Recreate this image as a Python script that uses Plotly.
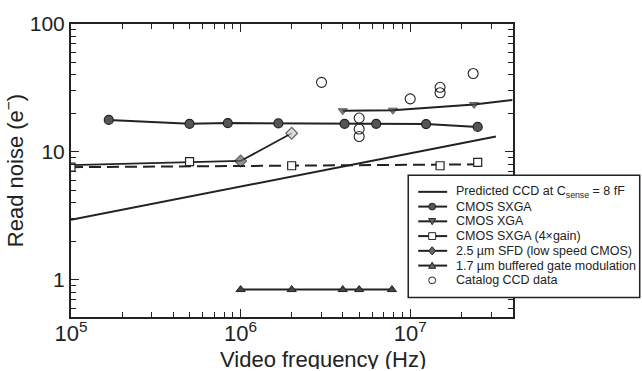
import plotly.graph_objects as go

# ---- data ----
pred_x = [1e5, 3.2e7]
pred_y = [2.95, 13.2]

sxga_x = [1.67e5, 5.0e5, 8.4e5, 1.67e6, 4.1e6, 6.3e6, 1.24e7, 2.5e7]
sxga_y = [17.8, 16.6, 16.8, 16.7, 16.6, 16.6, 16.5, 15.7]

xga_x = [4.0e6, 7.9e6, 2.38e7, 4.0e7]
xga_y = [21.0, 21.2, 23.5, 25.5]
xga_marker = [8, 8, 8, 0]

gain4_x = [1e5, 5.0e5, 2.0e6, 1.5e7, 2.5e7]
gain4_y = [7.6, 8.4, 7.8, 7.8, 8.3]
gain4_fit_x = [1e5, 2.6e7]
gain4_fit_y = [7.6, 8.0]

sfd_x = [1e5, 1.0e6, 2.0e6]
sfd_y = [7.9, 8.5, 14.0]
sfd_marker = [0, 9, 9]

bgm_x = [1.0e6, 2.0e6, 4.0e6, 5.0e6, 7.8e6]
bgm_y = [0.84, 0.84, 0.84, 0.84, 0.84]

cat_x = [3.0e6, 5.0e6, 5.0e6, 5.0e6, 1.0e7, 1.5e7, 1.5e7, 2.35e7]
cat_y = [35, 18.4, 15.1, 13.2, 26, 29, 32, 41]

x_ticks = [1e5, 1e6, 1e7]
x_ticktext = ["10<sup>5</sup>", "10<sup>6</sup>", "10<sup>7</sup>"]
y_ticks = [1, 10, 100]
y_ticktext = ["1", "10", "100"]

x_title = "Video frequency (Hz)"
y_title = "Read noise (e<sup>−</sup>)"

legend_names = [
    "Predicted CCD at C<sub>sense</sub> = 8 fF",
    "CMOS SXGA",
    "CMOS XGA",
    "CMOS SXGA (4×gain)",
    "2.5 µm SFD (low speed CMOS)",
    "1.7 µm buffered gate modulation",
    "Catalog CCD data",
]
legend_symbols = [None, "circle", "triangle-down", "square", "diamond", "triangle-up", "circle-open"]

FONT = "Liberation Sans, Arial, Helvetica, sans-serif"
K = "#222222"

# plot-area geometry (pixels)
W, H = 642, 371
ML, MR, MT, MB = 70, 129, 15, 54
PW, PH = W - ML - MR, H - MT - MB


def px(x):
    return (x - ML) / PW


def py(y):
    return (H - MB - y) / PH


fig = go.Figure()

fig.add_trace(go.Scatter(x=pred_x, y=pred_y, mode="lines",
                         line=dict(color=K, width=2), name=legend_names[0]))
fig.add_trace(go.Scatter(x=sxga_x, y=sxga_y, mode="lines+markers",
                         line=dict(color=K, width=2),
                         marker=dict(symbol="circle", size=9, color="#555555",
                                     line=dict(color=K, width=1.2)),
                         name=legend_names[1]))
fig.add_trace(go.Scatter(x=xga_x, y=xga_y, mode="lines+markers",
                         line=dict(color=K, width=2),
                         marker=dict(symbol="triangle-down", size=xga_marker, color="#444444",
                                     line=dict(color=K, width=1)),
                         name=legend_names[2]))
fig.add_trace(go.Scatter(x=gain4_fit_x, y=gain4_fit_y, mode="lines",
                         line=dict(color=K, width=2, dash="12px,6px"),
                         name=legend_names[3] + " fit", hoverinfo="skip"))
fig.add_trace(go.Scatter(x=sfd_x, y=sfd_y, mode="lines+markers",
                         line=dict(color=K, width=1.8),
                         marker=dict(symbol="diamond", size=sfd_marker,
                                     color=["#777777", "#666666", "#cccccc"],
                                     line=dict(color=K, width=1.2)),
                         name=legend_names[4]))
fig.add_trace(go.Scatter(x=gain4_x, y=gain4_y, mode="markers",
                         marker=dict(symbol="square", size=8, color="white",
                                     line=dict(color=K, width=1.2)),
                         name=legend_names[3]))
fig.add_trace(go.Scatter(x=bgm_x, y=bgm_y, mode="lines+markers",
                         line=dict(color=K, width=2),
                         marker=dict(symbol="triangle-up", size=8, color="#444444",
                                     line=dict(color=K, width=1)),
                         name=legend_names[5]))
fig.add_trace(go.Scatter(x=cat_x, y=cat_y, mode="markers",
                         marker=dict(symbol="circle-open", size=10, color=K,
                                     line=dict(width=1.1)),
                         name=legend_names[6]))

# ---- legend box drawn by hand (compact rows like the original) ----
shapes = []
annotations = []
box = dict(x0=408, x1=640, y0=171, y1=297)
shapes.append(dict(type="rect", xref="paper", yref="paper", layer="above",
                   x0=px(box["x0"]), x1=px(box["x1"]), y0=py(box["y1"]), y1=py(box["y0"]),
                   line=dict(color=K, width=1.5), fillcolor="white"))
row0, rowgap = 188.0, 15.2
lx0, lx1, mx, tx = 418, 447, 432, 455
ms = 3.5
for i, (name, sym) in enumerate(zip(legend_names, legend_symbols)):
    yc = row0 + rowgap * i
    if sym != "circle-open":
        shapes.append(dict(type="line", xref="paper", yref="paper", layer="above",
                           x0=px(lx0), x1=px(lx1), y0=py(yc), y1=py(yc),
                           line=dict(color=K, width=2)))
    mk = dict(xref="paper", yref="paper", layer="above", line=dict(color=K, width=1))
    if sym == "circle":
        shapes.append(dict(type="circle", x0=px(mx - ms), x1=px(mx + ms),
                           y0=py(yc + ms), y1=py(yc - ms), fillcolor="#555555", **mk))
    elif sym == "circle-open":
        shapes.append(dict(type="circle", x0=px(mx - ms), x1=px(mx + ms),
                           y0=py(yc + ms), y1=py(yc - ms), fillcolor="white", **mk))
    elif sym == "square":
        shapes.append(dict(type="rect", x0=px(mx - ms), x1=px(mx + ms),
                           y0=py(yc + ms), y1=py(yc - ms), fillcolor="white", **mk))
    elif sym in ("triangle-down", "triangle-up", "diamond"):
        if sym == "triangle-down":
            pts = [(mx - ms, yc - ms * 0.8), (mx + ms, yc - ms * 0.8), (mx, yc + ms)]
        elif sym == "triangle-up":
            pts = [(mx - ms, yc + ms * 0.8), (mx + ms, yc + ms * 0.8), (mx, yc - ms)]
        else:
            pts = [(mx - ms, yc), (mx, yc - ms * 1.2), (mx + ms, yc), (mx, yc + ms * 1.2)]
        path = "M " + " L ".join(f"{px(a):.5f},{py(b):.5f}" for a, b in pts) + " Z"
        shapes.append(dict(type="path", path=path, fillcolor="#666666", **mk))
    annotations.append(dict(x=px(tx), y=py(yc), xref="paper", yref="paper",
                            xanchor="left", yanchor="middle", showarrow=False,
                            height=14, borderpad=0,
                            text=name, font=dict(family=FONT, size=12.5, color=K)))

# x-axis title (placed like the original, slightly right of centre)
annotations.append(dict(x=px(323), y=py(360), xref="paper", yref="paper",
                        xanchor="center", yanchor="middle", showarrow=False,
                        height=20, borderpad=0,
                        text=x_title, font=dict(family=FONT, size=22, color=K)))

minor_x = [m * 10 ** e for e in (5, 6, 7) for m in range(2, 10) if m * 10 ** e <= 4.2e7]
minor_y = [m * 10 ** e for e in (-1, 0, 1) for m in range(2, 10) if 0.5 <= m * 10 ** e <= 100]

axis_common = dict(showgrid=False, zeroline=False, showline=True, linecolor=K, linewidth=2,
                   mirror="allticks", ticks="inside", ticklen=8, tickwidth=1.2, tickcolor=K)

fig.update_xaxes(type="log", range=[5, 7.606], tickvals=x_ticks, ticktext=x_ticktext,
                 tickfont=dict(family=FONT, size=22, color=K), ticklabelstandoff=-4,
                 minor=dict(tickvals=minor_x, ticks="inside", ticklen=5, tickcolor=K, tickwidth=1),
                 **axis_common)
fig.update_yaxes(type="log", range=[-0.29, 2.0], tickvals=y_ticks, ticktext=y_ticktext,
                 tickfont=dict(family=FONT, size=21, color=K),
                 minor=dict(tickvals=minor_y, ticks="inside", ticklen=5, tickcolor=K, tickwidth=1),
                 title=dict(text=y_title, font=dict(family=FONT, size=22, color=K), standoff=2),
                 **axis_common)

fig.update_layout(
    width=W, height=H,
    margin=dict(l=ML, r=MR, t=MT, b=MB),
    paper_bgcolor="white", plot_bgcolor="white",
    font=dict(family=FONT, color=K),
    showlegend=False,
    shapes=shapes,
    annotations=annotations,
)

fig.write_html("out.html")
